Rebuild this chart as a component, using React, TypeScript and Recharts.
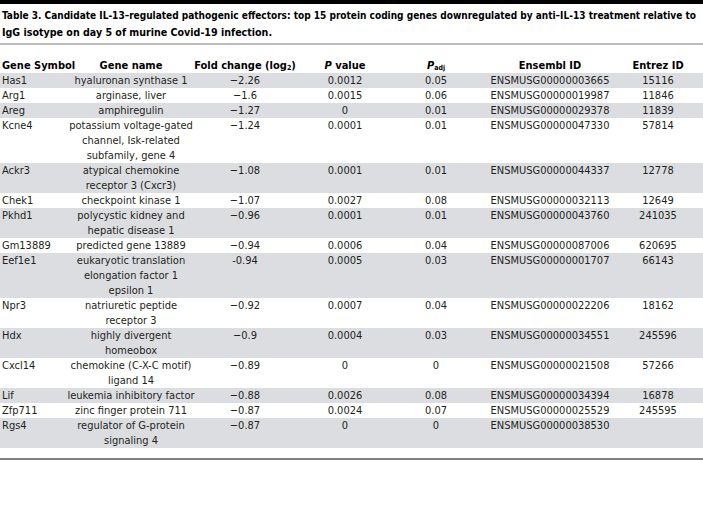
import React from 'react';
import { ScatterChart, Scatter, XAxis, YAxis, ReferenceArea, ReferenceLine, Customized } from 'recharts';

// ---------- data ----------
const geneSymbols = ['Has1', 'Arg1', 'Areg', 'Kcne4', 'Ackr3', 'Chek1', 'Pkhd1', 'Gm13889', 'Eef1e1', 'Npr3', 'Hdx', 'Cxcl14', 'Lif', 'Zfp711', 'Rgs4'];
const geneNames = [
  ['hyaluronan synthase 1'],
  ['arginase, liver'],
  ['amphiregulin'],
  ['potassium voltage-gated', 'channel, Isk-related', 'subfamily, gene 4'],
  ['atypical chemokine', 'receptor 3 (Cxcr3)'],
  ['checkpoint kinase 1'],
  ['polycystic kidney and', 'hepatic disease 1'],
  ['predicted gene 13889'],
  ['eukaryotic translation', 'elongation factor 1', 'epsilon 1'],
  ['natriuretic peptide', 'receptor 3'],
  ['highly divergent', 'homeobox'],
  ['chemokine (C-X-C motif)', 'ligand 14'],
  ['leukemia inhibitory factor'],
  ['zinc finger protein 711'],
  ['regulator of G-protein', 'signaling 4'],
];
const foldChanges = ['−2.26', '−1.6', '−1.27', '−1.24', '−1.08', '−1.07', '−0.96', '−0.94', '-0.94', '−0.92', '−0.9', '−0.89', '−0.88', '−0.87', '−0.87'];
const pValues = ['0.0012', '0.0015', '0', '0.0001', '0.0001', '0.0027', '0.0001', '0.0006', '0.0005', '0.0007', '0.0004', '0', '0.0026', '0.0024', '0'];
const pAdjValues = ['0.05', '0.06', '0.01', '0.01', '0.01', '0.08', '0.01', '0.04', '0.03', '0.04', '0.03', '0', '0.08', '0.07', '0'];
const ensemblIds = [
  'ENSMUSG00000003665', 'ENSMUSG00000019987', 'ENSMUSG00000029378', 'ENSMUSG00000047330', 'ENSMUSG00000044337',
  'ENSMUSG00000032113', 'ENSMUSG00000043760', 'ENSMUSG00000087006', 'ENSMUSG00000001707', 'ENSMUSG00000022206',
  'ENSMUSG00000034551', 'ENSMUSG00000021508', 'ENSMUSG00000034394', 'ENSMUSG00000025529', 'ENSMUSG00000038530',
];
const entrezIds = ['15116', '11846', '11839', '57814', '12778', '12649', '241035', '620695', '66143', '18162', '245596', '57266', '16878', '245595', ''];

const titleLines = [
  'Table 3. Candidate IL-13–regulated pathogenic effectors: top 15 protein coding genes downregulated by anti–IL-13 treatment relative to',
  'IgG isotype on day 5 of murine Covid-19 infection.',
];

// ---------- layout ----------
const W = 703;
const H = 523;
const FONT = '"DejaVu Sans Condensed", "Liberation Sans Narrow", "Arial Narrow", sans-serif';
const FS = 11;
const LINE = 15;
const TABLE_TOP = 73;
const HEADER_Y = 65;
const TEXT_COLOR = '#231f20';
const BAND = '#dcdde0';

type Col = { key: string; x: number; anchor: 'start' | 'middle' };
const columns: Col[] = [
  { key: 'symbol', x: 2, anchor: 'start' },
  { key: 'name', x: 131, anchor: 'middle' },
  { key: 'fold', x: 245, anchor: 'middle' },
  { key: 'p', x: 345, anchor: 'middle' },
  { key: 'padj', x: 436, anchor: 'middle' },
  { key: 'ensembl', x: 550, anchor: 'middle' },
  { key: 'entrez', x: 658, anchor: 'middle' },
];

let cum = 0;
const rows = geneSymbols.map((sym, i) => {
  const n = geneNames[i].length;
  const top = TABLE_TOP + cum * LINE;
  cum += n;
  return {
    top,
    bottom: top + n * LINE,
    textY: top + LINE / 2,
    cells: {
      symbol: [sym],
      name: geneNames[i],
      fold: [foldChanges[i]],
      p: [pValues[i]],
      padj: [pAdjValues[i]],
      ensembl: [ensemblIds[i]],
      entrez: [entrezIds[i]],
    } as Record<string, string[]>,
  };
});
const tableBottom = rows[rows.length - 1].bottom;

const headerContent = (key: string) => {
  switch (key) {
    case 'symbol':
      return 'Gene Symbol';
    case 'name':
      return 'Gene name';
    case 'fold':
      return (
        <>
          Fold change (log<tspan fontSize={7} dy={3}>2</tspan>
          <tspan dy={-3}>)</tspan>
        </>
      );
    case 'p':
      return (
        <>
          <tspan fontStyle="italic">P</tspan> value
        </>
      );
    case 'padj':
      return (
        <>
          <tspan fontStyle="italic">P</tspan>
          <tspan fontSize={7} dy={3}>adj</tspan>
        </>
      );
    case 'ensembl':
      return 'Ensembl ID';
    case 'entrez':
      return 'Entrez ID';
  }
  return '';
};

const headerData = columns.map((c) => ({ x: c.x, y: HEADER_Y, key: c.key, anchor: c.anchor }));

const HeaderShape = (props: any) => {
  const { cx, cy, payload } = props;
  return (
    <text
      x={cx}
      y={cy}
      dominantBaseline="central"
      textAnchor={payload.anchor}
      fontFamily={FONT}
      fontSize={FS}
      fontWeight="bold"
      fill="#000"
    >
      {headerContent(payload.key)}
    </text>
  );
};

const makeCellShape = (anchor: string) => (props: any) => {
  const { cx, cy, payload } = props;
  return (
    <text textAnchor={anchor} fontFamily={FONT} fontSize={FS} fill={TEXT_COLOR}>
      {payload.lines.map((l: string, j: number) => (
        <tspan key={j} x={cx} y={cy + j * LINE} dominantBaseline="central">
          {l}
        </tspan>
      ))}
    </text>
  );
};

const Title = () => (
  <g>
    <text x={2} y={15} dominantBaseline="central" fontFamily={FONT} fontSize={10} fontWeight="bold" fill="#000" textLength={694} lengthAdjust="spacingAndGlyphs">
      {titleLines[0]}
    </text>
    <text x={2} y={32} dominantBaseline="central" fontFamily={FONT} fontSize={10} fontWeight="bold" fill="#000" textLength={270} lengthAdjust="spacingAndGlyphs">
      {titleLines[1]}
    </text>
  </g>
);

export default function App() {
  return (
    <div style={{ position: 'absolute', left: 0, top: 0, background: '#fff' }}>
      <ScatterChart width={W} height={H} margin={{ top: 0, right: 0, bottom: 0, left: 0 }}>
        <XAxis type="number" dataKey="x" domain={[0, W]} hide />
        <YAxis type="number" dataKey="y" domain={[0, H]} reversed hide />
        {rows.map((r, i) =>
          i % 2 === 0 ? (
            <ReferenceArea key={'band' + i} y1={r.top} y2={r.bottom} fill={BAND} fillOpacity={1} stroke="none" ifOverflow="visible" />
          ) : null
        )}
        <ReferenceLine y={2} stroke="#000" strokeWidth={4} ifOverflow="visible" />
        <ReferenceLine y={44} stroke="#7a7a7a" strokeWidth={1} ifOverflow="visible" />
        <ReferenceLine y={tableBottom + 11} stroke="#555" strokeWidth={1.5} ifOverflow="visible" />
        <Customized component={Title} />
        <Scatter data={headerData} shape={HeaderShape} isAnimationActive={false} />
        {columns.map((c) => (
          <Scatter
            key={c.key}
            data={rows.map((r) => ({ x: c.x, y: r.textY, lines: r.cells[c.key] }))}
            shape={makeCellShape(c.anchor)}
            isAnimationActive={false}
          />
        ))}
      </ScatterChart>
    </div>
  );
}
